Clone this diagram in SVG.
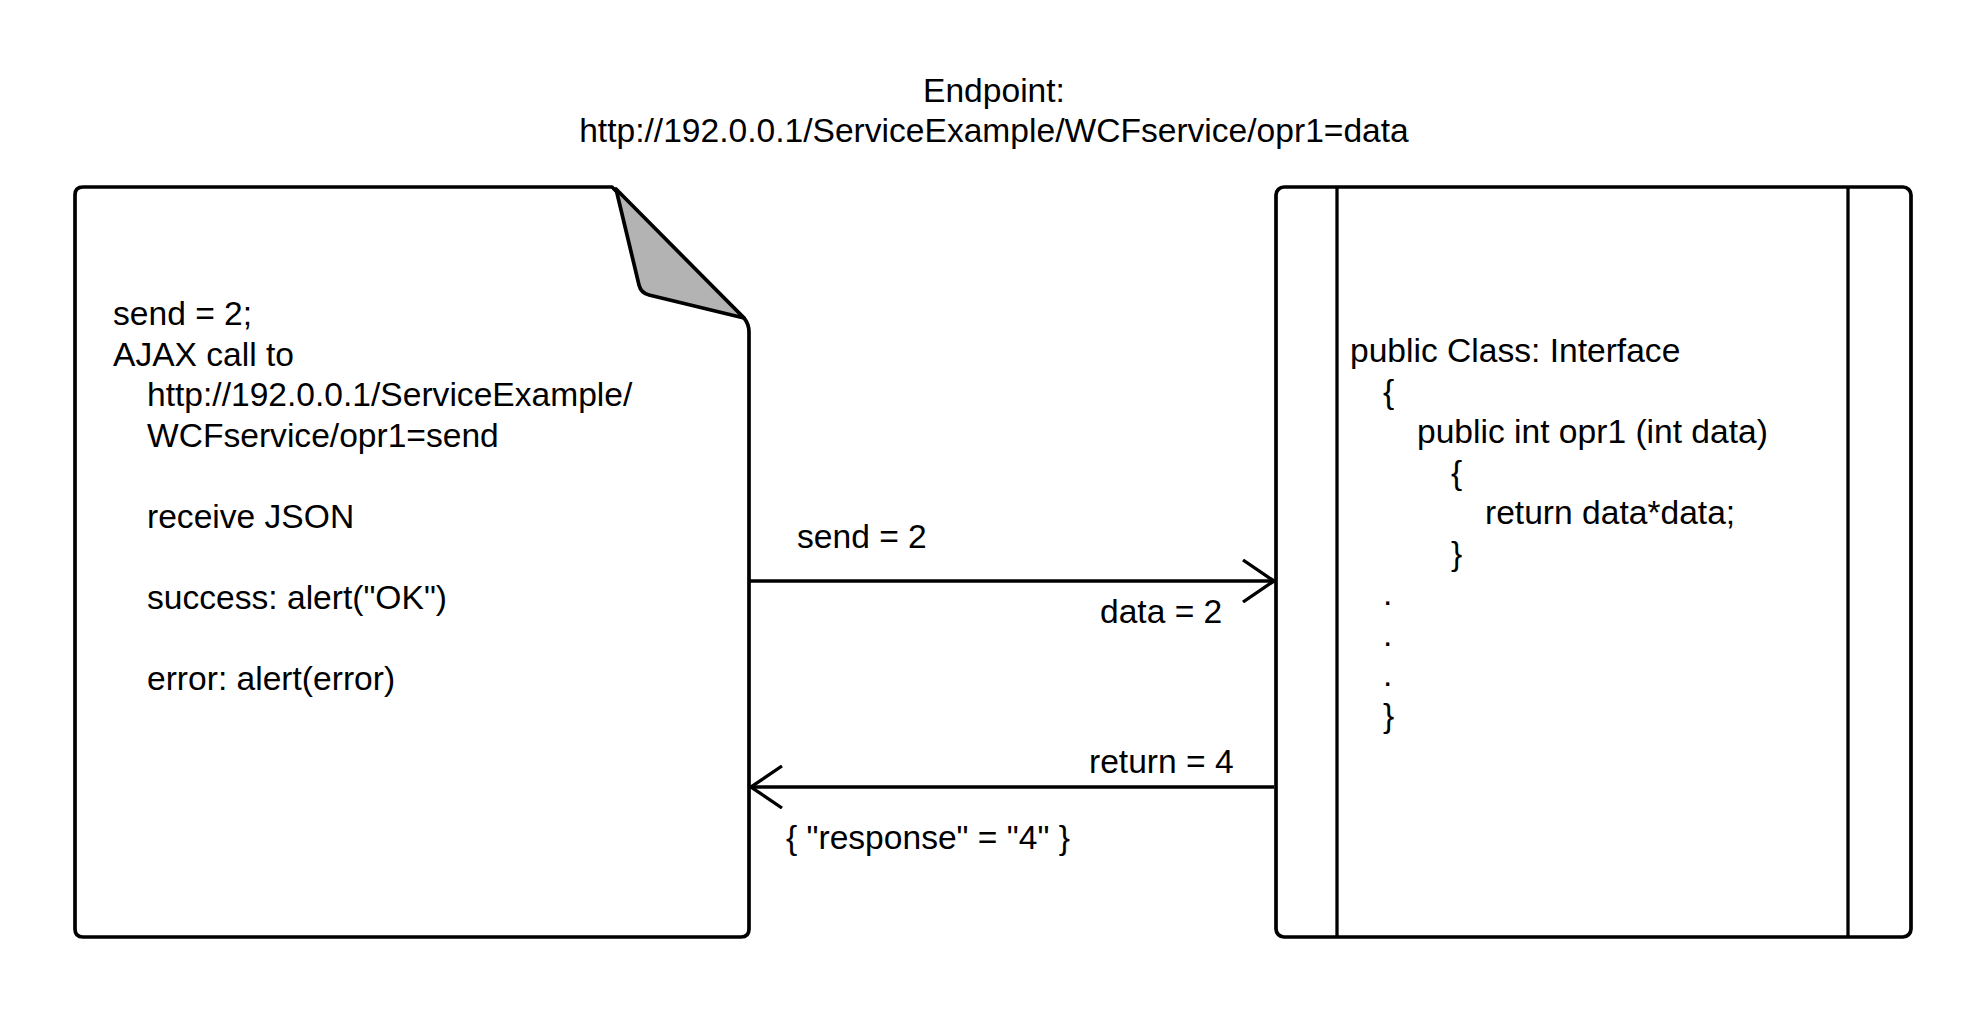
<svg xmlns="http://www.w3.org/2000/svg" width="1988" height="1013" viewBox="0 0 1988 1013">
<style>
text{font-family:"Liberation Sans",Arial,sans-serif;font-size:33.6px;fill:#000}
.shape{fill:#fff;stroke:#000;stroke-width:3.7;stroke-linejoin:round}
.fold{fill:#b3b3b3;stroke:#000;stroke-width:3.7;stroke-linejoin:round}
.line{fill:none;stroke:#000;stroke-width:3.3}
.conn{fill:none;stroke:#000;stroke-width:3.3;marker-end:url(#open)}
</style>
<defs>
<marker id="open" viewBox="0 0 34 44" refX="32" refY="22" markerWidth="34" markerHeight="44" markerUnits="userSpaceOnUse" orient="auto">
<path d="M1,1 L32,22 L1,43" fill="none" stroke="#000" stroke-width="3.3"/>
</marker>
</defs>
<rect width="1988" height="1013" fill="#fff"/>
<g id="title">
<text x="994" y="102" text-anchor="middle">Endpoint:</text>
<text x="994" y="142" text-anchor="middle">http://192.0.0.1/ServiceExample/WCFservice/opr1=data</text>
</g>
<g id="client">
<path class="shape" d="M83,187 H612 L744,318 Q749,324 749,332 V929 Q749,937 741,937 H83 Q75,937 75,929 V195 Q75,187 83,187 Z"/>
<path class="fold" d="M616,189 L639,285 Q641,293 649,295 L744,318 Z"/>
<text x="113" y="325">send = 2;</text>
<text x="113" y="365.5">AJAX call to</text>
<text x="147" y="406">http://192.0.0.1/ServiceExample/</text>
<text x="147" y="446.5">WCFservice/opr1=send</text>
<text x="147" y="527.5">receive JSON</text>
<text x="147" y="608.5">success: alert("OK")</text>
<text x="147" y="689.5">error: alert(error)</text>
</g>
<g id="service">
<rect class="shape" x="1276" y="187" width="635" height="750" rx="8" ry="8"/>
<line class="line" x1="1337" y1="187" x2="1337" y2="937"/>
<line class="line" x1="1848" y1="187" x2="1848" y2="937"/>
<text x="1350" y="362">public Class: Interface</text>
<text x="1383" y="402.5">{</text>
<text x="1417" y="443">public int opr1 (int data)</text>
<text x="1451" y="483.5">{</text>
<text x="1485" y="524">return data*data;</text>
<text x="1451" y="564.5">}</text>
<text x="1383" y="605">.</text>
<text x="1383" y="645.5">.</text>
<text x="1383" y="686">.</text>
<text x="1383" y="726.5">}</text>
</g>
<g id="connectors">
<line class="conn" x1="750" y1="581" x2="1274" y2="581"/>
<line class="conn" x1="1274" y1="787" x2="751" y2="787"/>
</g>
<g id="labels">
<text x="797" y="548">send = 2</text>
<text x="1100" y="623">data = 2</text>
<text x="1089" y="773">return = 4</text>
<text x="786" y="849">{ "response" = "4" }</text>
</g>
</svg>
